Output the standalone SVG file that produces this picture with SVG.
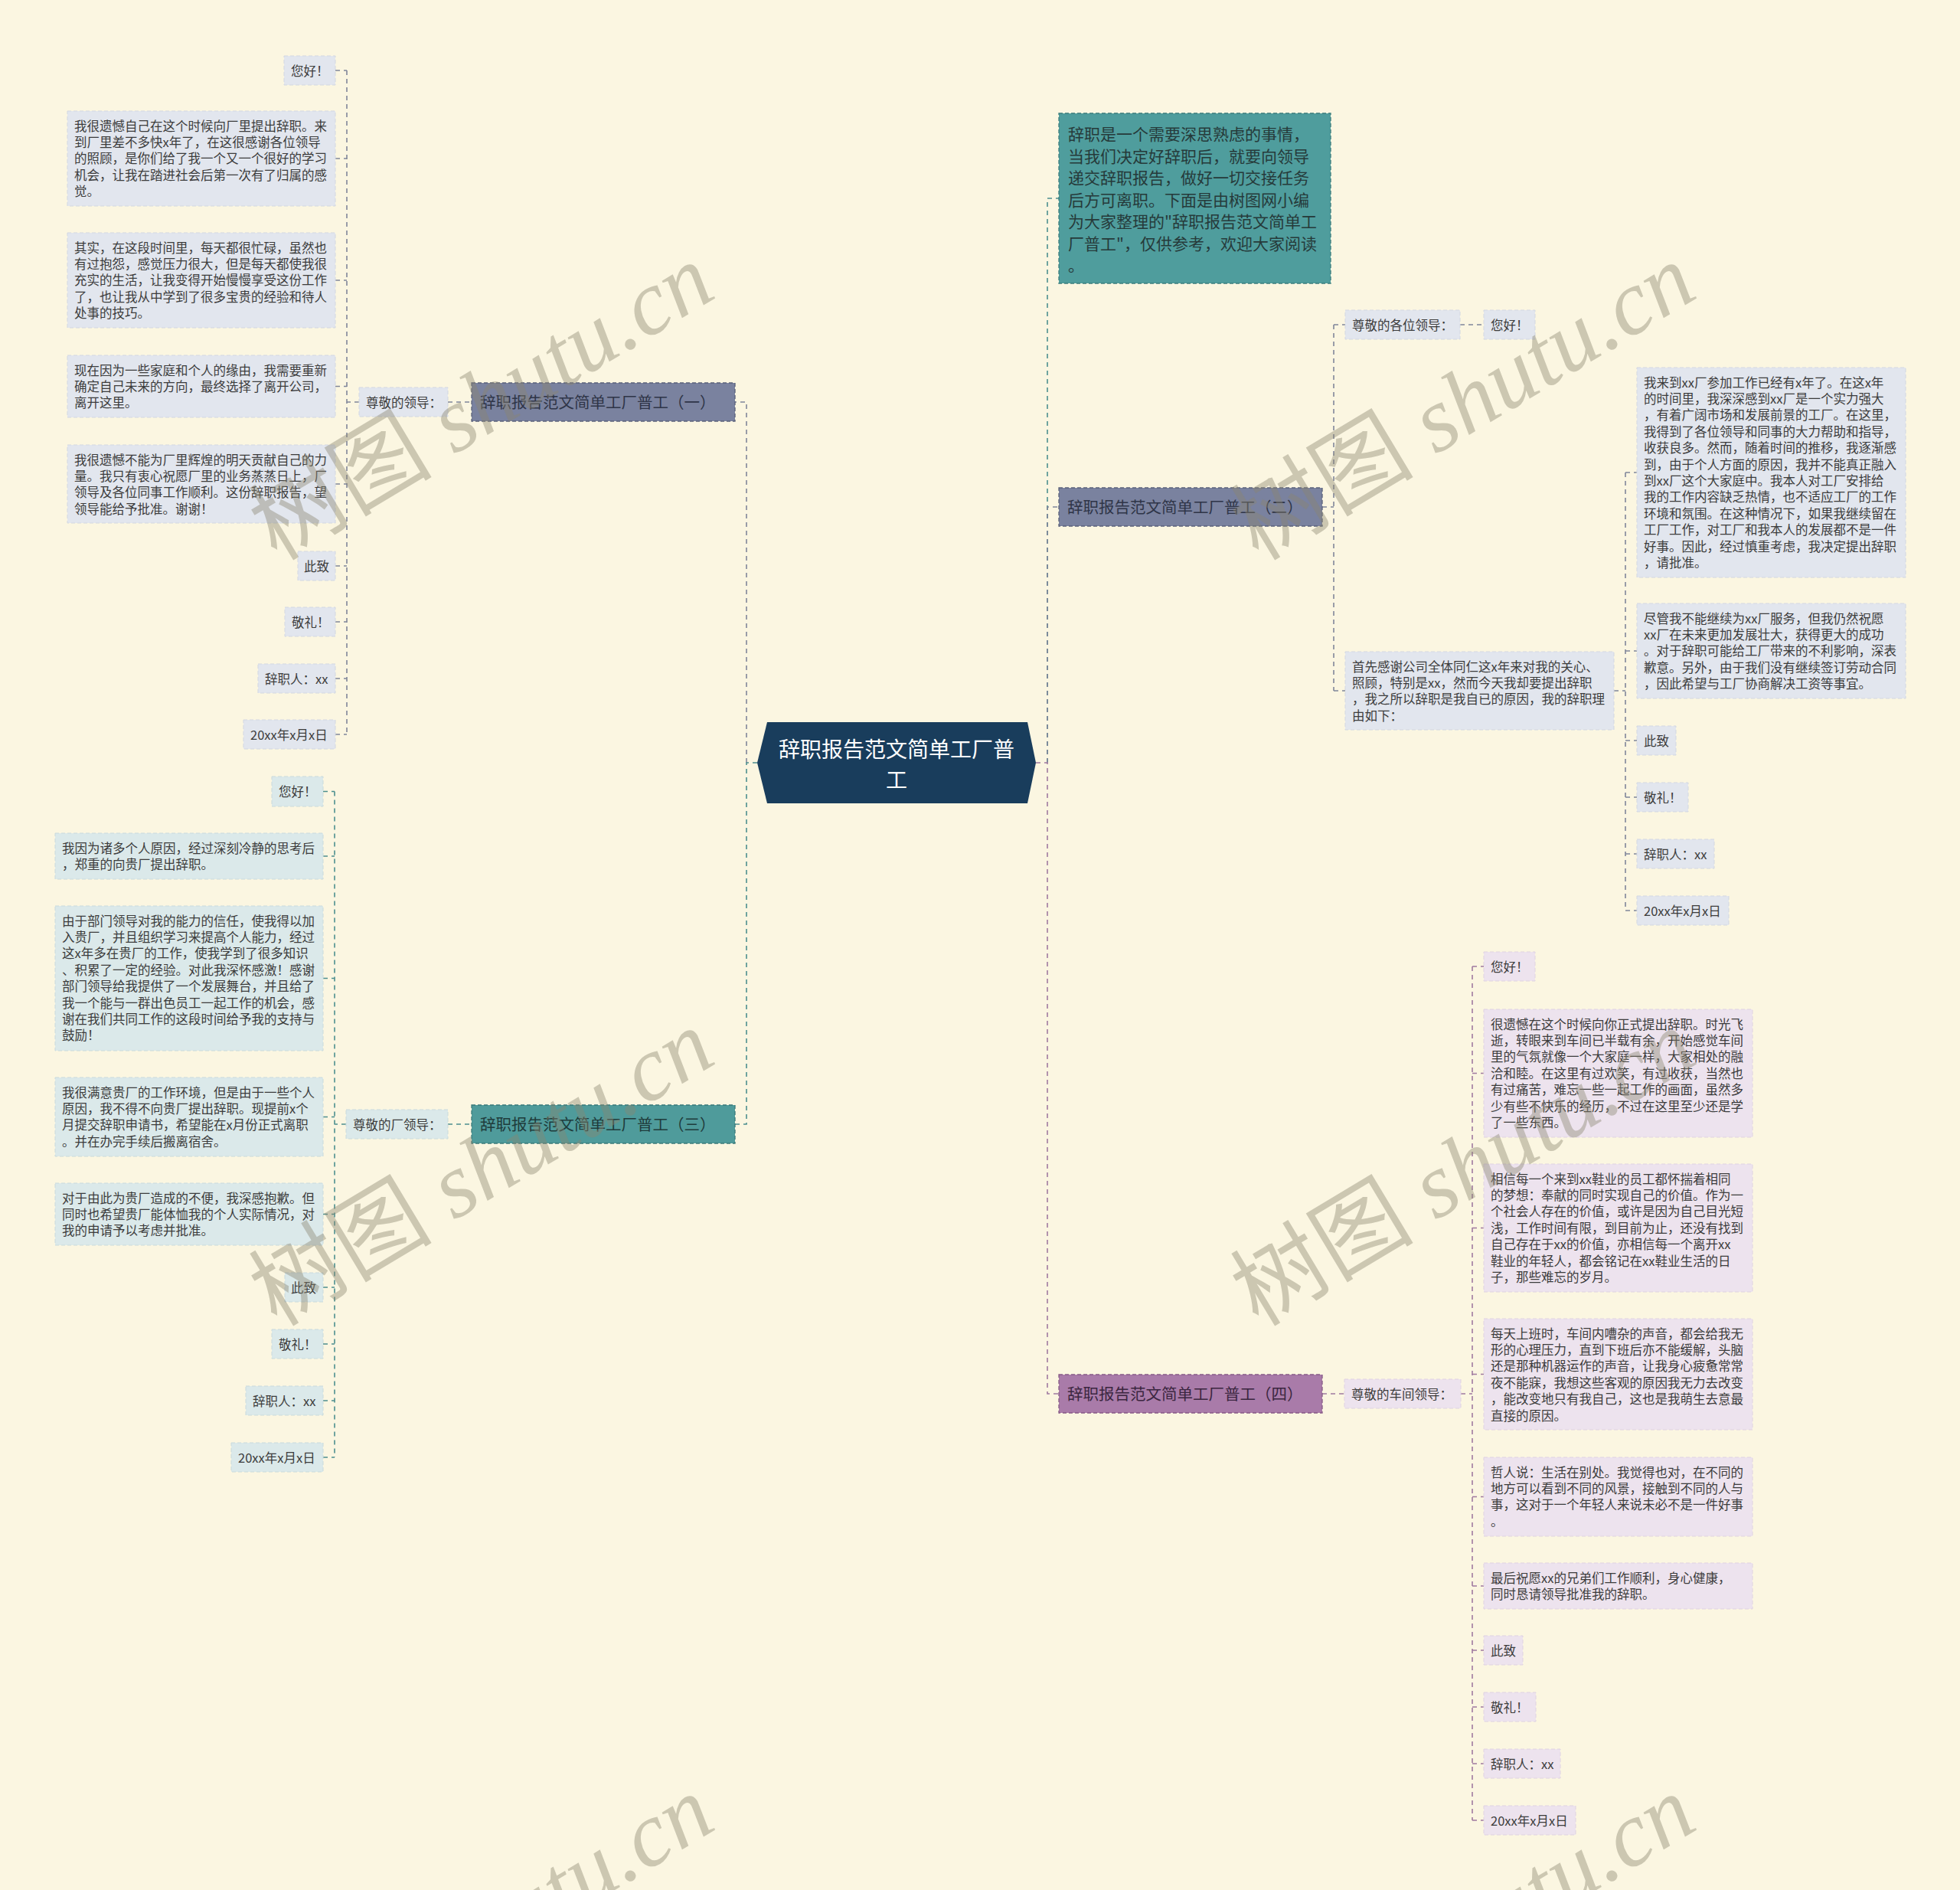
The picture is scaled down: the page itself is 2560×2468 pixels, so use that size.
<svg xmlns="http://www.w3.org/2000/svg" width="2560" height="2468" viewBox="0 0 2560 2468">
<style>
.t{font-family:"Noto Sans CJK SC","Noto Sans",sans-serif;font-size:16.5px;fill:#3c3c3c}
.tb{font-family:"Noto Sans CJK SC","Noto Sans",sans-serif;font-size:20.5px}
.ti{font-family:"Noto Sans CJK SC","Noto Sans",sans-serif;font-size:21px;fill:#263a3a}
.tc{font-family:"Noto Sans CJK SC","Noto Sans",sans-serif;font-size:28px;fill:#ffffff;text-anchor:middle}
.l1{fill:#e2e6ee;stroke:#d2d7e1;stroke-width:1;stroke-dasharray:5 3}
.l3{fill:#dbe9ea;stroke:#c9dadc;stroke-width:1;stroke-dasharray:5 3}
.l4{fill:#ede3ee;stroke:#dfd2e1;stroke-width:1;stroke-dasharray:5 3}
.b1{fill:#7a829f;stroke:#596079;stroke-width:1.3;stroke-dasharray:5 3}
.b3{fill:#4f9b9b;stroke:#3a7a7a;stroke-width:1.3;stroke-dasharray:5 3}
.b4{fill:#a97ba9;stroke:#865a86;stroke-width:1.3;stroke-dasharray:5 3}
.k{fill:none;stroke-width:1.6;stroke-dasharray:6 5}
.kg{stroke:#80869a}
.kt{stroke:#4d8f8f}
.kp{stroke:#a07aa0}
.wm{font-family:"Liberation Serif","Noto Sans CJK SC",serif;font-size:120px;fill:#8a8670;fill-opacity:0.42}
</style>
<rect width="2560" height="2468" fill="#fbf6e1"/>

<g id="connectors">
  <!-- left trunk -->
  <path class="k kg" d="M975,996 V525 H960"/>
  <path class="k kt" d="M989,996 H975 V1468 H960"/>
  <!-- branch 1 -->
  <path class="k kg" d="M585,525 H616 M469,525 H453 M453,92 V959"/>
  <path class="k kg" d="M438,92 H453 M438,207 H453 M438,366 H453 M438,504.5 H453 M438,632 H453 M438,739 H453 M438,812 H453 M438,886 H453 M438,959 H453"/>
  <!-- branch 3 -->
  <path class="k kt" d="M585,1468 H616 M452,1468 H437 M437,1033.5 V1903"/>
  <path class="k kt" d="M422,1033.5 H437 M422,1118 H437 M422,1277.5 H437 M422,1458.5 H437 M422,1585.5 H437 M422,1681 H437 M422,1755 H437 M422,1829 H437 M422,1903 H437"/>
  <!-- right trunk -->
  <path class="k kt" d="M1368,996 V259 H1383"/>
  <path class="k kg" d="M1368,996 V662 H1383"/>
  <path class="k kp" d="M1353,996 H1368 V1820 H1383"/>
  <!-- branch 2 -->
  <path class="k kg" d="M1727,662 H1742 M1742,424 V902 M1742,424 H1757 M1907,424 H1938 M1742,902 H1757 M2108,902 H2123 M2123,617 V1189"/>
  <path class="k kg" d="M2123,617 H2138 M2123,850 H2138 M2123,967 H2138 M2123,1041 H2138 M2123,1115 H2138 M2123,1189 H2138"/>
  <!-- branch 4 -->
  <path class="k kp" d="M1727,1820 H1756 M1908,1820 H1923 M1923,1262 V2377"/>
  <path class="k kp" d="M1923,1262 H1938 M1923,1401.5 H1938 M1923,1603.5 H1938 M1923,1794.5 H1938 M1923,1954.5 H1938 M1923,2071 H1938 M1923,2155 H1938 M1923,2229 H1938 M1923,2303 H1938 M1923,2377 H1938"/>
</g>

<g id="center">
  <polygon points="989,996 1002,943 1342,943 1353,996 1342,1049 1002,1049" fill="#193d5c"/>
  <text class="tc" x="1171" y="988.5">辞职报告范文简单工厂普</text>
  <text class="tc" x="1171" y="1028.5">工</text>
</g>

<g id="intro">
  <rect x="1383" y="148" width="355" height="222" fill="#4f9d9d" stroke="#3a7c7c" stroke-width="1.3" stroke-dasharray="5 3"/>
  <text class="ti" x="1395" y="183">辞职是一个需要深思熟虑的事情，</text>
  <text class="ti" x="1395" y="211.5">当我们决定好辞职后，就要向领导</text>
  <text class="ti" x="1395" y="240">递交辞职报告，做好一切交接任务</text>
  <text class="ti" x="1395" y="268.5">后方可离职。下面是由树图网小编</text>
  <text class="ti" x="1395" y="297">为大家整理的"辞职报告范文简单工</text>
  <text class="ti" x="1395" y="325.5">厂普工"，仅供参考，欢迎大家阅读</text>
  <text class="ti" x="1395" y="354">。</text>
</g>

<!-- Branch 1 -->
<g id="branch1">
  <rect class="b1" x="616" y="500" width="344" height="50"/>
  <text class="tb" x="627" y="533" fill="#2f3548">辞职报告范文简单工厂普工（一）</text>
</g>
<g id="b1-label">
  <rect class="l1" x="469" y="506" width="116" height="38"/>
  <text class="t" x="478" y="531.5">尊敬的领导：</text>
</g>
<g id="b1-n1"><rect class="l1" x="371" y="73" width="67" height="38"/><text class="t" x="380" y="98.5">您好！</text></g>
<g id="b1-n2"><rect class="l1" x="88" y="145" width="350" height="124"/>
  <text class="t" x="97" y="170.5">我很遗憾自己在这个时候向厂里提出辞职。来</text>
  <text class="t" x="97" y="191.9">到厂里差不多快x年了，在这很感谢各位领导</text>
  <text class="t" x="97" y="213.3">的照顾，是你们给了我一个又一个很好的学习</text>
  <text class="t" x="97" y="234.7">机会，让我在踏进社会后第一次有了归属的感</text>
  <text class="t" x="97" y="256.1">觉。</text></g>
<g id="b1-n3"><rect class="l1" x="88" y="304" width="350" height="124"/>
  <text class="t" x="97" y="329.5">其实，在这段时间里，每天都很忙碌，虽然也</text>
  <text class="t" x="97" y="350.9">有过抱怨，感觉压力很大，但是每天都使我很</text>
  <text class="t" x="97" y="372.3">充实的生活，让我变得开始慢慢享受这份工作</text>
  <text class="t" x="97" y="393.7">了，也让我从中学到了很多宝贵的经验和待人</text>
  <text class="t" x="97" y="415.1">处事的技巧。</text></g>
<g id="b1-n4"><rect class="l1" x="88" y="464" width="350" height="81"/>
  <text class="t" x="97" y="489.5">现在因为一些家庭和个人的缘由，我需要重新</text>
  <text class="t" x="97" y="510.9">确定自己未来的方向，最终选择了离开公司，</text>
  <text class="t" x="97" y="532.3">离开这里。</text></g>
<g id="b1-n5"><rect class="l1" x="88" y="581" width="350" height="102"/>
  <text class="t" x="97" y="606.5">我很遗憾不能为厂里辉煌的明天贡献自己的力</text>
  <text class="t" x="97" y="627.9">量。我只有衷心祝愿厂里的业务蒸蒸日上，厂</text>
  <text class="t" x="97" y="649.3">领导及各位同事工作顺利。这份辞职报告，望</text>
  <text class="t" x="97" y="670.7">领导能给予批准。谢谢！</text></g>
<g id="b1-n6"><rect class="l1" x="389" y="720" width="49" height="38"/><text class="t" x="397" y="745.5">此致</text></g>
<g id="b1-n7"><rect class="l1" x="372" y="793" width="66" height="38"/><text class="t" x="381" y="818.5">敬礼！</text></g>
<g id="b1-n8"><rect class="l1" x="337" y="867" width="101" height="38"/><text class="t" x="346" y="892.5">辞职人：xx</text></g>
<g id="b1-n9"><rect class="l1" x="318" y="940" width="120" height="38"/><text class="t" x="327" y="965.5">20xx年x月x日</text></g>

<!-- Branch 3 -->
<g id="branch3">
  <rect class="b3" x="616" y="1443" width="344" height="50"/>
  <text class="tb" x="627" y="1476" fill="#1f3c3c">辞职报告范文简单工厂普工（三）</text>
</g>
<g id="b3-label">
  <rect class="l3" x="452" y="1449" width="133" height="38"/>
  <text class="t" x="461" y="1474.5">尊敬的厂领导：</text>
</g>
<g id="b3-n1"><rect class="l3" x="355" y="1014" width="67" height="39"/><text class="t" x="364" y="1039.5">您好！</text></g>
<g id="b3-n2"><rect class="l3" x="72" y="1088" width="350" height="60"/>
  <text class="t" x="81" y="1113.5">我因为诸多个人原因，经过深刻冷静的思考后</text>
  <text class="t" x="81" y="1134.9">，郑重的向贵厂提出辞职。</text></g>
<g id="b3-n3"><rect class="l3" x="72" y="1183" width="350" height="189"/>
  <text class="t" x="81" y="1208.5">由于部门领导对我的能力的信任，使我得以加</text>
  <text class="t" x="81" y="1229.9">入贵厂，并且组织学习来提高个人能力，经过</text>
  <text class="t" x="81" y="1251.3">这x年多在贵厂的工作，使我学到了很多知识</text>
  <text class="t" x="81" y="1272.7">、积累了一定的经验。对此我深怀感激！感谢</text>
  <text class="t" x="81" y="1294.1">部门领导给我提供了一个发展舞台，并且给了</text>
  <text class="t" x="81" y="1315.5">我一个能与一群出色员工一起工作的机会，感</text>
  <text class="t" x="81" y="1336.9">谢在我们共同工作的这段时间给予我的支持与</text>
  <text class="t" x="81" y="1358.3">鼓励！</text></g>
<g id="b3-n4"><rect class="l3" x="72" y="1407" width="350" height="103"/>
  <text class="t" x="81" y="1432.5">我很满意贵厂的工作环境，但是由于一些个人</text>
  <text class="t" x="81" y="1453.9">原因，我不得不向贵厂提出辞职。现提前x个</text>
  <text class="t" x="81" y="1475.3">月提交辞职申请书，希望能在x月份正式离职</text>
  <text class="t" x="81" y="1496.7">。并在办完手续后搬离宿舍。</text></g>
<g id="b3-n5"><rect class="l3" x="72" y="1545" width="350" height="81"/>
  <text class="t" x="81" y="1570.5">对于由此为贵厂造成的不便，我深感抱歉。但</text>
  <text class="t" x="81" y="1591.9">同时也希望贵厂能体恤我的个人实际情况，对</text>
  <text class="t" x="81" y="1613.3">我的申请予以考虑并批准。</text></g>
<g id="b3-n6"><rect class="l3" x="372" y="1662" width="50" height="38"/><text class="t" x="380" y="1687.5">此致</text></g>
<g id="b3-n7"><rect class="l3" x="355" y="1736" width="67" height="38"/><text class="t" x="364" y="1761.5">敬礼！</text></g>
<g id="b3-n8"><rect class="l3" x="321" y="1810" width="101" height="38"/><text class="t" x="330" y="1835.5">辞职人：xx</text></g>
<g id="b3-n9"><rect class="l3" x="302" y="1884" width="120" height="38"/><text class="t" x="311" y="1909.5">20xx年x月x日</text></g>

<!-- Branch 2 -->
<g id="branch2">
  <rect class="b1" x="1383" y="637" width="344" height="50"/>
  <text class="tb" x="1394" y="670" fill="#2f3548">辞职报告范文简单工厂普工（二）</text>
</g>
<g id="b2-label1"><rect class="l1" x="1757" y="405" width="150" height="38"/><text class="t" x="1766" y="430.5">尊敬的各位领导：</text></g>
<g id="b2-n1"><rect class="l1" x="1938" y="405" width="67" height="38"/><text class="t" x="1947" y="430.5">您好！</text></g>
<g id="b2-label2"><rect class="l1" x="1757" y="851" width="351" height="102"/>
  <text class="t" x="1766" y="876.5">首先感谢公司全体同仁这x年来对我的关心、</text>
  <text class="t" x="1766" y="897.9">照顾，特别是xx，然而今天我却要提出辞职</text>
  <text class="t" x="1766" y="919.3">，我之所以辞职是我自已的原因，我的辞职理</text>
  <text class="t" x="1766" y="940.7">由如下：</text></g>
<g id="b2-n2"><rect class="l1" x="2138" y="480" width="351" height="274"/>
  <text class="t" x="2147" y="505.5">我来到xx厂参加工作已经有x年了。在这x年</text>
  <text class="t" x="2147" y="526.9">的时间里，我深深感到xx厂是一个实力强大</text>
  <text class="t" x="2147" y="548.3">，有着广阔市场和发展前景的工厂。在这里，</text>
  <text class="t" x="2147" y="569.7">我得到了各位领导和同事的大力帮助和指导，</text>
  <text class="t" x="2147" y="591.1">收获良多。然而，随着时间的推移，我逐渐感</text>
  <text class="t" x="2147" y="612.5">到，由于个人方面的原因，我并不能真正融入</text>
  <text class="t" x="2147" y="633.9">到xx厂这个大家庭中。我本人对工厂安排给</text>
  <text class="t" x="2147" y="655.3">我的工作内容缺乏热情，也不适应工厂的工作</text>
  <text class="t" x="2147" y="676.7">环境和氛围。在这种情况下，如果我继续留在</text>
  <text class="t" x="2147" y="698.1">工厂工作，对工厂和我本人的发展都不是一件</text>
  <text class="t" x="2147" y="719.5">好事。因此，经过慎重考虑，我决定提出辞职</text>
  <text class="t" x="2147" y="740.9">，请批准。</text></g>
<g id="b2-n3"><rect class="l1" x="2138" y="788" width="351" height="124"/>
  <text class="t" x="2147" y="813.5">尽管我不能继续为xx厂服务，但我仍然祝愿</text>
  <text class="t" x="2147" y="834.9">xx厂在未来更加发展壮大，获得更大的成功</text>
  <text class="t" x="2147" y="856.3">。对于辞职可能给工厂带来的不利影响，深表</text>
  <text class="t" x="2147" y="877.7">歉意。另外，由于我们没有继续签订劳动合同</text>
  <text class="t" x="2147" y="899.1">，因此希望与工厂协商解决工资等事宜。</text></g>
<g id="b2-n4"><rect class="l1" x="2138" y="948" width="51" height="38"/><text class="t" x="2147" y="973.5">此致</text></g>
<g id="b2-n5"><rect class="l1" x="2138" y="1022" width="67" height="38"/><text class="t" x="2147" y="1047.5">敬礼！</text></g>
<g id="b2-n6"><rect class="l1" x="2138" y="1096" width="101" height="38"/><text class="t" x="2147" y="1121.5">辞职人：xx</text></g>
<g id="b2-n7"><rect class="l1" x="2138" y="1170" width="120" height="38"/><text class="t" x="2147" y="1195.5">20xx年x月x日</text></g>

<!-- Branch 4 -->
<g id="branch4">
  <rect class="b4" x="1383" y="1795" width="344" height="50"/>
  <text class="tb" x="1394" y="1828" fill="#3b2640">辞职报告范文简单工厂普工（四）</text>
</g>
<g id="b4-label"><rect class="l4" x="1756" y="1801" width="152" height="38"/><text class="t" x="1765" y="1826.5">尊敬的车间领导：</text></g>
<g id="b4-n1"><rect class="l4" x="1938" y="1243" width="67" height="38"/><text class="t" x="1947" y="1268.5">您好！</text></g>
<g id="b4-n2"><rect class="l4" x="1938" y="1318" width="351" height="167"/>
  <text class="t" x="1947" y="1343.5">很遗憾在这个时候向你正式提出辞职。时光飞</text>
  <text class="t" x="1947" y="1364.9">逝，转眼来到车间已半载有余，开始感觉车间</text>
  <text class="t" x="1947" y="1386.3">里的气氛就像一个大家庭一样，大家相处的融</text>
  <text class="t" x="1947" y="1407.7">洽和睦。在这里有过欢笑，有过收获，当然也</text>
  <text class="t" x="1947" y="1429.1">有过痛苦，难忘一些一起工作的画面，虽然多</text>
  <text class="t" x="1947" y="1450.5">少有些不快乐的经历，不过在这里至少还是学</text>
  <text class="t" x="1947" y="1471.9">了一些东西。</text></g>
<g id="b4-n3"><rect class="l4" x="1938" y="1520" width="351" height="167"/>
  <text class="t" x="1947" y="1545.5">相信每一个来到xx鞋业的员工都怀揣着相同</text>
  <text class="t" x="1947" y="1566.9">的梦想：奉献的同时实现自己的价值。作为一</text>
  <text class="t" x="1947" y="1588.3">个社会人存在的价值，或许是因为自己目光短</text>
  <text class="t" x="1947" y="1609.7">浅，工作时间有限，到目前为止，还没有找到</text>
  <text class="t" x="1947" y="1631.1">自己存在于xx的价值，亦相信每一个离开xx</text>
  <text class="t" x="1947" y="1652.5">鞋业的年轻人，都会铭记在xx鞋业生活的日</text>
  <text class="t" x="1947" y="1673.9">子，那些难忘的岁月。</text></g>
<g id="b4-n4"><rect class="l4" x="1938" y="1722" width="351" height="145"/>
  <text class="t" x="1947" y="1747.5">每天上班时，车间内嘈杂的声音，都会给我无</text>
  <text class="t" x="1947" y="1768.9">形的心理压力，直到下班后亦不能缓解，头脑</text>
  <text class="t" x="1947" y="1790.3">还是那种机器运作的声音，让我身心疲惫常常</text>
  <text class="t" x="1947" y="1811.7">夜不能寐，我想这些客观的原因我无力去改变</text>
  <text class="t" x="1947" y="1833.1">，能改变地只有我自己，这也是我萌生去意最</text>
  <text class="t" x="1947" y="1854.5">直接的原因。</text></g>
<g id="b4-n5"><rect class="l4" x="1938" y="1903" width="351" height="103"/>
  <text class="t" x="1947" y="1928.5">哲人说：生活在别处。我觉得也对，在不同的</text>
  <text class="t" x="1947" y="1949.9">地方可以看到不同的风景，接触到不同的人与</text>
  <text class="t" x="1947" y="1971.3">事，这对于一个年轻人来说未必不是一件好事</text>
  <text class="t" x="1947" y="1992.7">。</text></g>
<g id="b4-n6"><rect class="l4" x="1938" y="2041" width="351" height="60"/>
  <text class="t" x="1947" y="2066.5">最后祝愿xx的兄弟们工作顺利，身心健康，</text>
  <text class="t" x="1947" y="2087.9">同时恳请领导批准我的辞职。</text></g>
<g id="b4-n7"><rect class="l4" x="1938" y="2136" width="51" height="38"/><text class="t" x="1947" y="2161.5">此致</text></g>
<g id="b4-n8"><rect class="l4" x="1938" y="2210" width="68" height="38"/><text class="t" x="1947" y="2235.5">敬礼！</text></g>
<g id="b4-n9"><rect class="l4" x="1938" y="2284" width="100" height="38"/><text class="t" x="1947" y="2309.5">辞职人：xx</text></g>
<g id="b4-n10"><rect class="l4" x="1938" y="2358" width="120" height="38"/><text class="t" x="1947" y="2383.5">20xx年x月x日</text></g>

<g id="watermarks">
  <text class="wm" transform="translate(650,560) rotate(-31)" text-anchor="middle">树图 <tspan font-style="italic">shutu.cn</tspan></text>
  <text class="wm" transform="translate(1932,560) rotate(-31)" text-anchor="middle">树图 <tspan font-style="italic">shutu.cn</tspan></text>
  <text class="wm" transform="translate(650,1560) rotate(-31)" text-anchor="middle">树图 <tspan font-style="italic">shutu.cn</tspan></text>
  <text class="wm" transform="translate(1932,1560) rotate(-31)" text-anchor="middle">树图 <tspan font-style="italic">shutu.cn</tspan></text>
  <text class="wm" transform="translate(650,2560) rotate(-31)" text-anchor="middle">树图 <tspan font-style="italic">shutu.cn</tspan></text>
  <text class="wm" transform="translate(1932,2560) rotate(-31)" text-anchor="middle">树图 <tspan font-style="italic">shutu.cn</tspan></text>
</g>
</svg>
